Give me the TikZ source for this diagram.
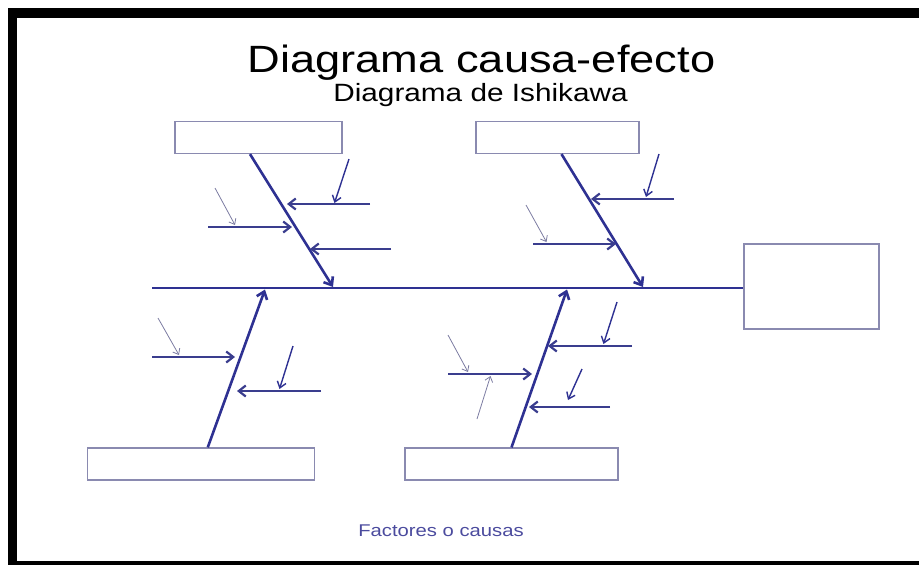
\documentclass[tikz,border=0pt]{standalone}
\usepackage{fontspec}
\setmainfont{Liberation Sans}
\usepackage{graphicx}
\usetikzlibrary{arrows.meta,positioning,calc}
\definecolor{cBone}{HTML}{2E3192}
\definecolor{cRib}{HTML}{3A3D8E}
\definecolor{cHint}{HTML}{7C7CA2}
\definecolor{cBox}{HTML}{8A8AB0}
\definecolor{cNote}{HTML}{4B4B9E}
\newcommand{\wide}[1]{\scalebox{1.19}[1]{#1}}

\begin{document}
\begin{tikzpicture}[
    x=1pt, y=-1pt,
    spine/.style={line width=2.8pt, draw=cBone},
    bone/.style={-{Straight Barb[length=7pt,width=11pt]}, line width=2.6pt, draw=cBone},
    rib/.style={-{Straight Barb[length=7pt,width=11pt]}, line width=2.2pt, draw=cRib},
    hint/.style={-{Straight Barb[length=6pt,width=9pt]}, line width=1.4pt, draw=cBone},
    faint/.style={-{Straight Barb[length=5pt,width=8pt]}, line width=0.8pt, draw=cHint},
    catbox/.style={draw=cBox, line width=1.2pt, fill=white, inner sep=0pt, minimum height=32pt},
  ]
  \useasboundingbox (0,0) rectangle (919,565);
  % frame
  \fill[black] (8,8) rectangle (919,18);
  \fill[black] (8,8) rectangle (17,565);
  \fill[black] (8,561) rectangle (919,565);

  % titles
  \node[anchor=base, font=\fontsize{38}{44}\selectfont] (ttl) at (481.5,72) {\wide{Diagrama causa-efecto}};
  \node[anchor=base, font=\fontsize{25}{30}\selectfont] (sub) at (480.5,101.5) {\wide{Diagrama de Ishikawa}};

  % category boxes and effect
  \node[catbox, minimum width=167pt] (ctl) at (258.5,137.5) {};
  \node[catbox, minimum width=163pt] (ctr) at (557.5,137.5) {};
  \node[catbox, minimum width=227pt] (cbl) at (200.75,464) {};
  \node[catbox, minimum width=213pt] (cbr) at (511.5,464) {};
  \node[catbox, minimum width=135pt, minimum height=85pt] (eff) at (811.5,286.5) {};

  % spine
  \coordinate (tail) at (152,288);
  \draw[spine] (tail) -- (tail -| eff.west);

  % main bones
  \coordinate (j1) at (333,287);
  \coordinate (j2) at (643,287);
  \coordinate (j3) at (265,289.5);
  \coordinate (j4) at (567,289.5);
  \draw[bone] ($(ctl.south)+(-8.5,0)$) -- (j1);
  \draw[bone] ($(ctr.south)+(4,0)$) -- (j2);
  \draw[bone] ($(cbl.north)+(7,0)$) -- (j3);
  \draw[bone] (cbr.north) -- (j4);

  % ribs, top left
  \coordinate (r1a) at (370,204); \coordinate (r1b) at (287,204);
  \coordinate (r2a) at (208,227); \coordinate (r2b) at (292,227);
  \coordinate (r3a) at (391,249); \coordinate (r3b) at (310,249);
  \coordinate (h1) at (349,159);  \coordinate (h2) at (215,188);
  \draw[rib] (r1a) -- (r1b);
  \draw[rib] (r2a) -- (r2b);
  \draw[rib] (r3a) -- (r3b);
  \draw[hint] (h1) -- (334.5,203);
  \draw[faint] (h2) -- (235,225);

  % ribs, top right
  \coordinate (r4a) at (674,199); \coordinate (r4b) at (591,199);
  \coordinate (r5a) at (533,244); \coordinate (r5b) at (616,244);
  \coordinate (h4) at (659,154);  \coordinate (h5) at (526,205);
  \draw[rib] (r4a) -- (r4b);
  \draw[rib] (r5a) -- (r5b);
  \draw[hint] (h4) -- (646,197);
  \draw[faint] (h5) -- (546.5,242);

  % ribs, bottom left
  \coordinate (r6a) at (152,357); \coordinate (r6b) at (235,357);
  \coordinate (r7a) at (321,391); \coordinate (r7b) at (237,391);
  \coordinate (h6) at (158,318);  \coordinate (h7) at (293,346);
  \draw[rib] (r6a) -- (r6b);
  \draw[rib] (r7a) -- (r7b);
  \draw[faint] (h6) -- (179,355);
  \draw[hint] (h7) -- (279.5,389);

  % ribs, bottom right
  \coordinate (r8a) at (632,346); \coordinate (r8b) at (548,346);
  \coordinate (r9a) at (448,374); \coordinate (r9b) at (532,374);
  \coordinate (r10a) at (610,407); \coordinate (r10b) at (529,407);
  \coordinate (h8) at (617,302);  \coordinate (h9) at (448,335);
  \coordinate (h9u) at (477,419); \coordinate (h10) at (582,369);
  \draw[rib] (r8a) -- (r8b);
  \draw[rib] (r9a) -- (r9b);
  \draw[rib] (r10a) -- (r10b);
  \draw[hint] (h8) -- (603.5,344);
  \draw[faint] (h9) -- (468,372);
  \draw[faint] (h9u) -- (490.5,376);
  \draw[hint] (h10) -- (568,400);

  \node[anchor=base, text=cNote, font=\fontsize{17}{20}\selectfont] (note) at (441,536) {\wide{Factores o causas}};
\end{tikzpicture}
\end{document}
